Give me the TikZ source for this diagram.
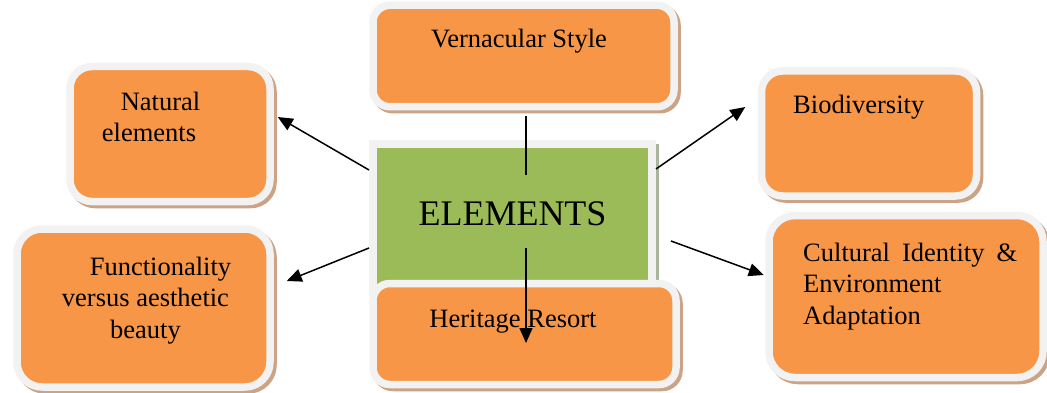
\documentclass[tikz,border=0pt]{standalone}
\usepackage{fontspec}
\setmainfont{Liberation Serif}
\usetikzlibrary{arrows.meta}
\definecolor{orangec}{HTML}{F79646}
\definecolor{greenc}{HTML}{9BBB59}
\definecolor{framec}{HTML}{F2F2F2}
\definecolor{shadowc}{HTML}{CDA385}
\definecolor{gshadowc}{HTML}{A9B69C}
\begin{document}
\begin{tikzpicture}[x=1pt,y=-1pt,
  obox/.style={rectangle, inner sep=0pt, fill=orangec, draw=framec, line width=7.5pt,
    preaction={fill=shadowc, draw=shadowc, transform canvas={shift={(3pt,-3pt)}}}},
  gbox/.style={rectangle, inner sep=0pt, fill=greenc, draw=framec, line width=8pt,
    preaction={fill=gshadowc, draw=gshadowc, transform canvas={shift={(2.5pt,-4pt)}}}},
  txt/.style={font=\fontsize{26.5}{31.5}\selectfont, inner sep=0pt},
  conn/.style={line width=1.5pt, -{Triangle[length=15pt,width=13pt]}}]

\fill[white] (0,0) rectangle (1047,393);
\useasboundingbox (0,0) rectangle (1047,393);

\node[obox, rounded corners=17pt, minimum width=301pt, minimum height=101.5pt] (V) at (523.5,56) {};
\node[obox, rounded corners=22pt, minimum width=200pt, minimum height=135pt] (N) at (170,134) {};
\node[obox, rounded corners=25pt, minimum width=253pt, minimum height=158pt] (F) at (143.5,308) {};
\node[obox, rounded corners=21pt, minimum width=215pt, minimum height=125pt] (B) at (869,133.5) {};
\node[obox, rounded corners=26pt, minimum width=274pt, minimum height=162pt] (C) at (906,296.5) {};
\node[gbox, minimum width=279pt, minimum height=148pt] (E) at (512.5,218) {};
\node[obox, rounded corners=17pt, minimum width=303pt, minimum height=101pt] (H) at (524.5,334) {};

\node[txt, anchor=base] (tV) at (519,48) {Vernacular Style};
\node[txt, anchor=base, align=center] (tN) at (149,142) {\hspace*{23pt}Natural\\elements};
\node[txt, anchor=base, align=center] (tF) at (145.5,338) {\hspace*{30pt}Functionality\\versus aesthetic\\beauty};
\node[txt, anchor=base west] (tB) at (793,114) {Biodiversity};
\node[txt, anchor=base west, align=left] (tC) at (803,324) {\makebox[214pt][s]{Cultural Identity \&}\\Environment\\Adaptation};
\node[txt, anchor=base] (tH) at (513,327) {Heritage Resort};

\draw[conn] ([yshift=-6pt]V.south -| 526,0) -- ([yshift=-9pt]H.center -| 526,0);
\draw[conn] (E.west |- 0,170) -- ([xshift=4pt]N.east |- 0,117);
\draw[conn] (E.west |- 0,248) -- ([xshift=13pt]F.east |- 0,281);
\draw[conn] (E.east |- 0,169) -- ([xshift=-12.5pt]B.west |- 0,107);
\draw[conn] ([xshift=15pt]E.east |- 0,241) -- ([xshift=-1.5pt]C.west |- 0,275);

\node[font=\fontsize{36}{40}\selectfont, fill=greenc, inner xsep=3pt, inner ysep=0pt,
  text height=50pt, text depth=23pt, anchor=base] (tE) at (512.5,225) {ELEMENTS};
\end{tikzpicture}
\end{document}
